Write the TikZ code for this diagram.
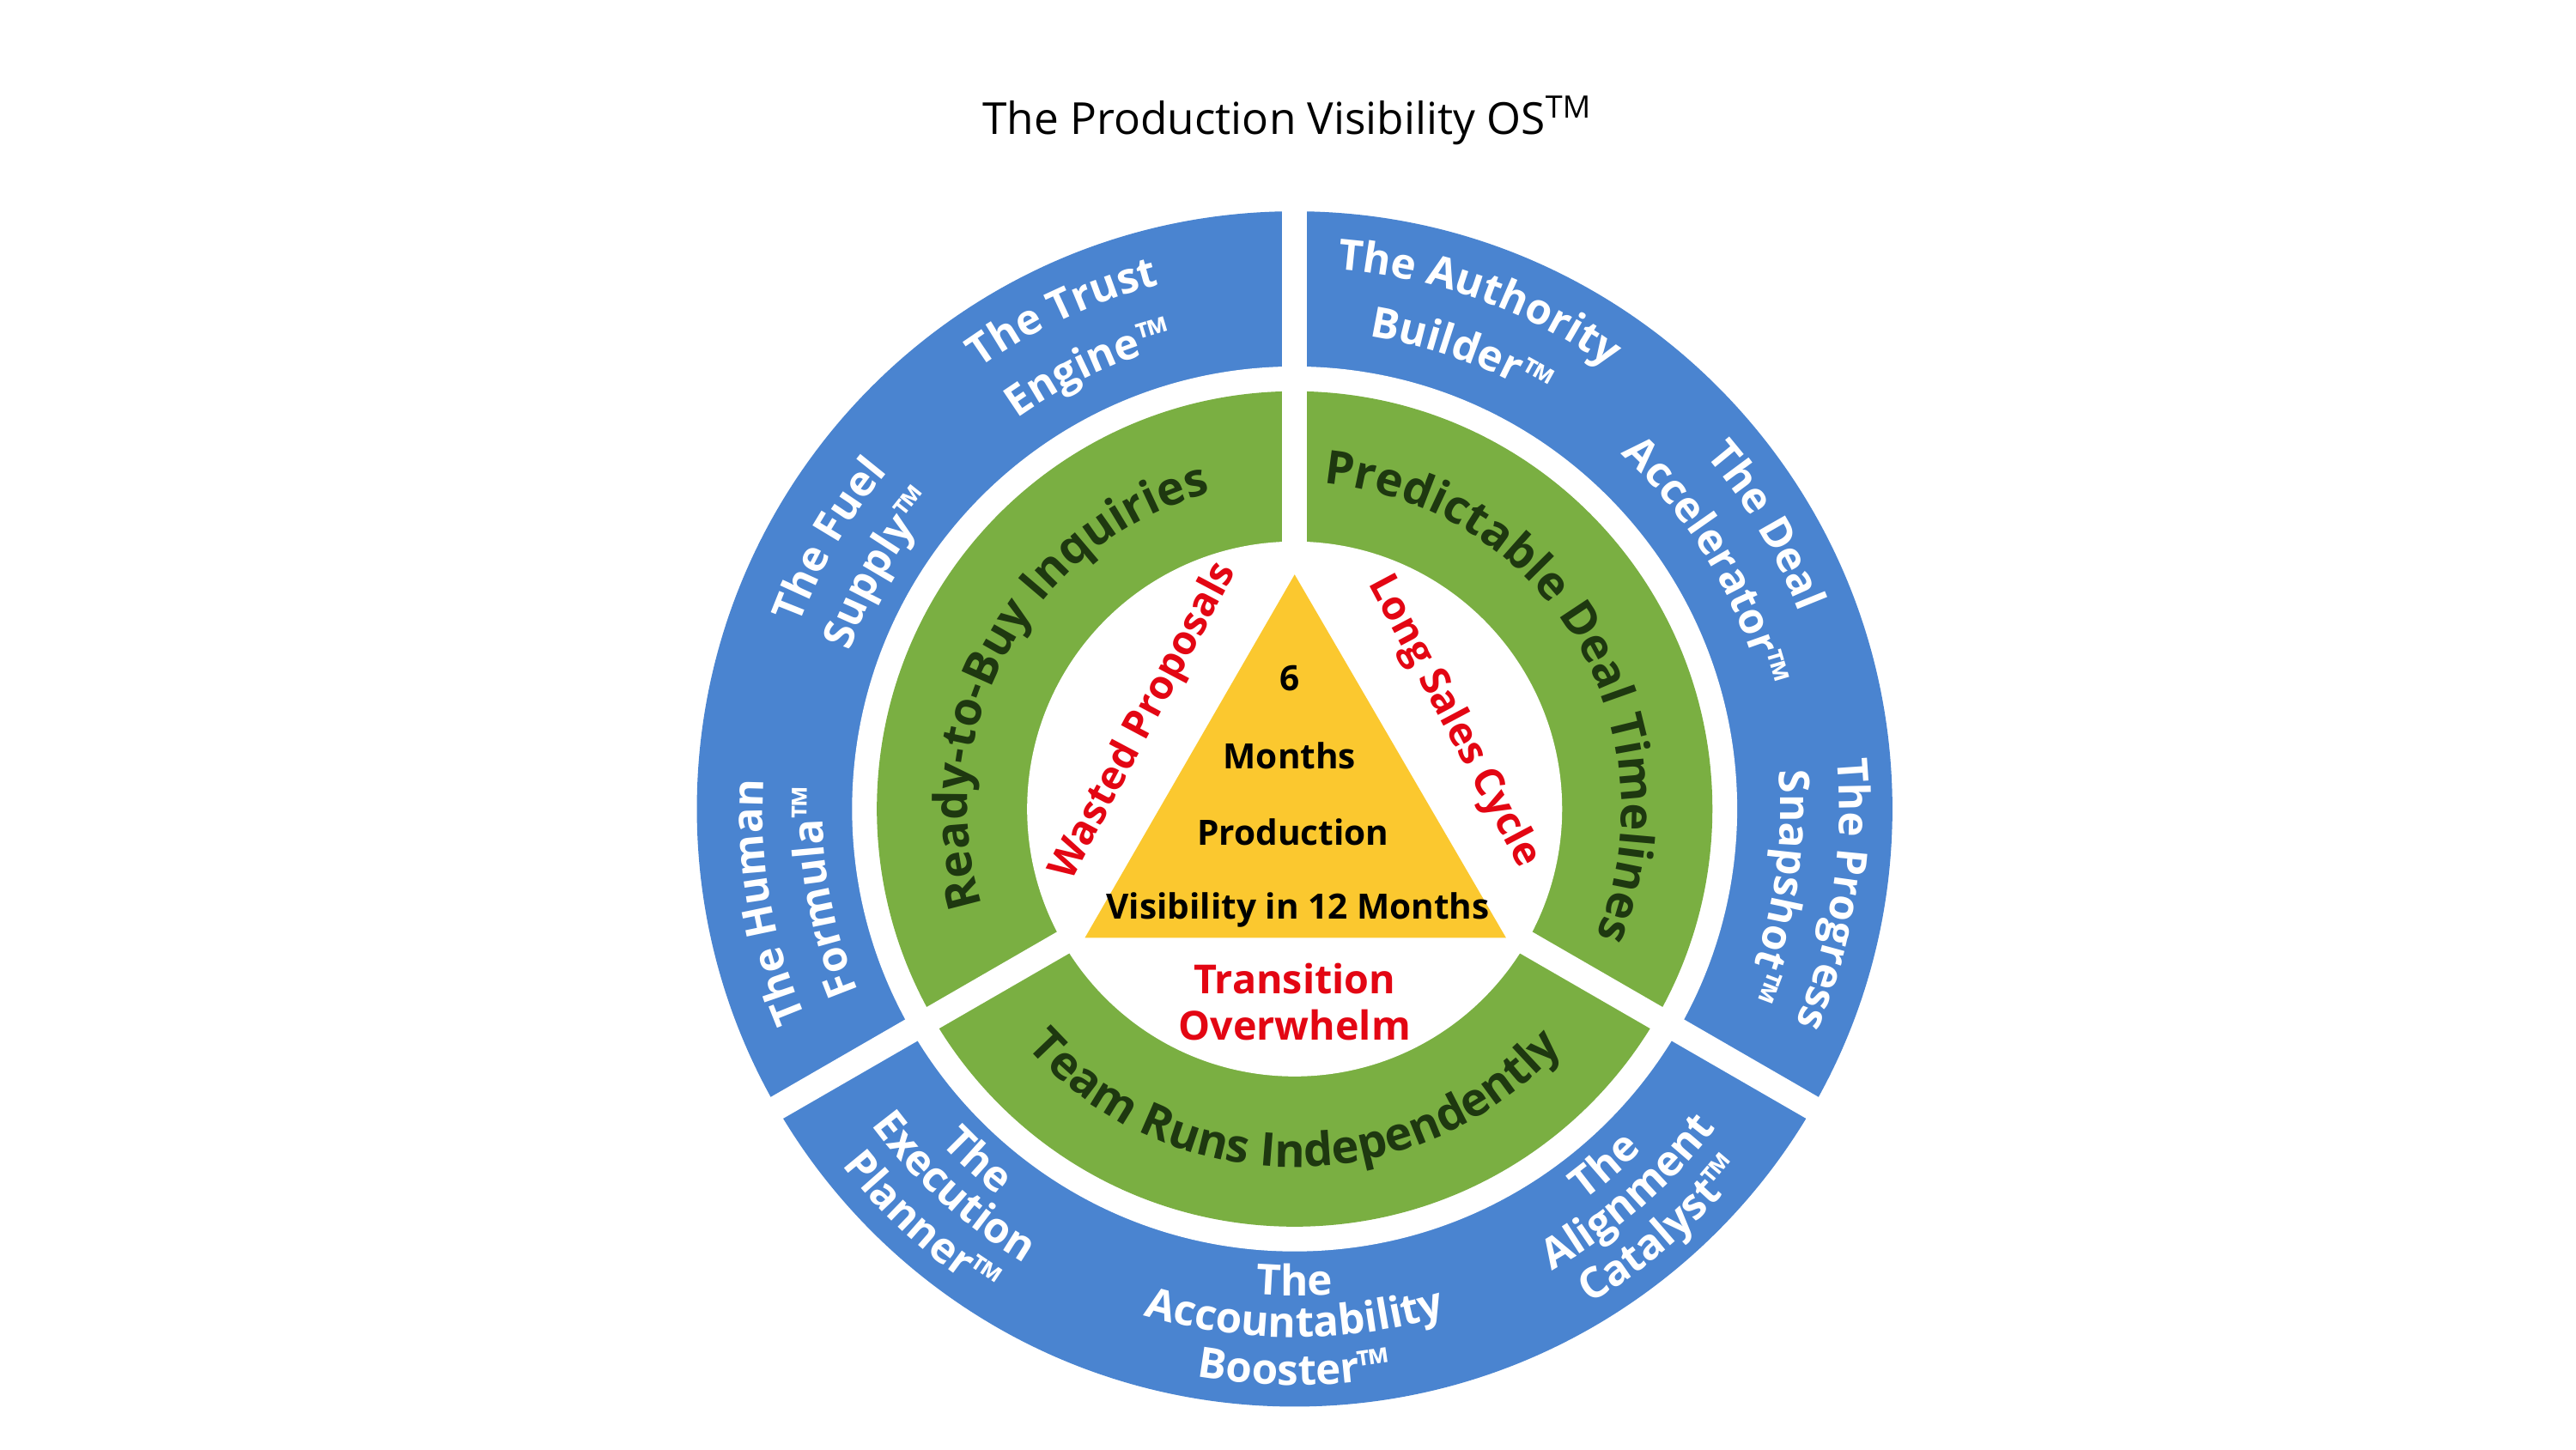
\documentclass[tikz,border=0pt]{standalone}
\usepackage{fontspec}
\setmainfont{Open Sans}
\usetikzlibrary{decorations.text}
\definecolor{ringblue}{HTML}{4A84D0}
\definecolor{ringgreen}{HTML}{7AAF42}
\definecolor{darkgreen}{HTML}{1E3810}
\definecolor{triyellow}{HTML}{FBC82F}
\definecolor{alarmred}{HTML}{E30613}
\newcommand\ringtext[5]{% radius, start, end, colour, text
  \path[decorate,decoration={text along path,text align=center,text color=#4,text={#5}}]
    (C) ++(#2:#1) arc[start angle=#2,end angle=#3,radius=#1];}
\newcommand\bo{\fontsize{7.3}{8}\bfseries}
\newcommand\gr{\fontsize{8}{9}\bfseries}
\begin{document}
\begin{tikzpicture}[gap/.style={white,line width=0.15cm},
  redtext/.style={text=alarmred,font=\fontsize{6.9}{8}\bfseries,align=center},
  tritext/.style={font=\fontsize{6}{7}\bfseries}]
\useasboundingbox (0,0) rectangle (15.6,8.78);
\coordinate (C) at (7.84,3.88);
% rings
\fill[ringblue] (C) circle[radius=3.62];
\fill[white] (C) circle[radius=2.68];
\fill[ringgreen] (C) circle[radius=2.53];
\fill[white] (C) circle[radius=1.62];
\foreach \a in {90,210,330}
  \draw[gap] (C) ++(\a:1.55) -- ++(\a:2.2);
% triangle
\coordinate (apex) at (7.84,5.30);
\coordinate (bl) at (6.57,3.10);
\coordinate (br) at (9.12,3.10);
\fill[triyellow] (apex) -- (bl) -- (br) -- cycle;
\node[tritext] (six) at (7.81,4.67) {6};
\node[tritext] (months) at (7.81,4.20) {Months};
\node[tritext] (prod) at (7.83,3.74) {Production};
\node[tritext] (vis) at (7.86,3.27) {Visibility in 12 Months};
% red issues
\node[redtext,rotate=62] (wasted) at (6.93,4.41) {Wasted Proposals};
\node[redtext,rotate=-62] (long) at (8.80,4.41) {Long Sales Cycle};
\node[redtext] (trans) at (7.84,2.71) {Transition\\Overwhelm};
% green ring
\ringtext{1.98}{205}{97}{darkgreen}{|\gr|Ready-to-Buy Inquiries}
\ringtext{1.98}{85}{-23}{darkgreen}{|\gr|Predictable Deal Timelines}
\ringtext{2.17}{215}{325}{darkgreen}{|\gr|Team Runs Independently}
% blue ring
\ringtext{3.28}{150}{80}{white}{|\bo|The Trust}
\ringtext{2.90}{150}{80}{white}{|\bo|Engine™}
\ringtext{3.28}{105}{35}{white}{|\bo|The Authority}
\ringtext{2.90}{105}{35}{white}{|\bo|Builder™}
\ringtext{3.20}{185}{115}{white}{|\bo|The Fuel}
\ringtext{2.86}{185}{115}{white}{|\bo|Supply™}
\ringtext{3.22}{225}{155}{white}{|\bo|The Human}
\ringtext{2.86}{225}{155}{white}{|\bo|Formula™}
\ringtext{3.28}{66}{-4}{white}{|\bo|The Deal}
\ringtext{2.92}{66}{-4}{white}{|\bo|Accelerator™}
\ringtext{3.30}{26}{-44}{white}{|\bo|The Progress}
\ringtext{2.94}{26}{-44}{white}{|\bo|Snapshot™}
\ringtext{2.95}{193}{263}{white}{|\bo|The}
\ringtext{3.20}{193}{263}{white}{|\bo|Execution}
\ringtext{3.49}{193}{263}{white}{|\bo|Planner™}
\ringtext{2.95}{235}{305}{white}{|\bo|The}
\ringtext{3.20}{235}{305}{white}{|\bo|Accountability}
\ringtext{3.49}{235}{305}{white}{|\bo|Booster™}
\ringtext{2.95}{276}{346}{white}{|\bo|The}
\ringtext{3.20}{276}{346}{white}{|\bo|Alignment}
\ringtext{3.49}{276}{346}{white}{|\bo|Catalyst™}
% title
\node[font=\fontsize{7.6}{9}\selectfont] (title) at (7.80,8.05) {The Production Visibility OS\textsuperscript{TM}};
\end{tikzpicture}
\end{document}
